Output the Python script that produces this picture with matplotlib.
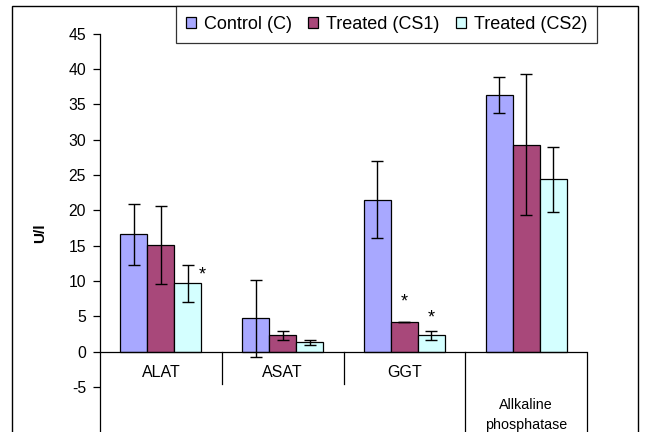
import matplotlib
matplotlib.use("Agg")
import matplotlib.pyplot as plt
from matplotlib.patches import Patch, Rectangle
import numpy as np

plt.rcParams['font.family'] = ['Liberation Sans', 'DejaVu Sans']
plt.rcParams['axes.unicode_minus'] = False

categories = ["ALAT", "ASAT", "GGT", "Allkaline\nphosphatase"]
series_names = ["Control (C)", "Treated (CS1)", "Treated (CS2)"]
control = [16.6, 4.7, 21.5, 36.3]
cs1 = [15.1, 2.3, 4.15, 29.3]
cs2 = [9.65, 1.3, 2.3, 24.4]
control_err = [4.3, 5.5, 5.4, 2.6]
cs1_err = [5.5, 0.6, 0.0, 10.0]
cs2_err = [2.65, 0.4, 0.6, 4.6]
colors = ["#A8A8FF", "#A8487A", "#D4FFFF"]
yticks = [-5, 0, 5, 10, 15, 20, 25, 30, 35, 40, 45]
# significance markers: (category index, series index, y)
stars = [(0, 2, 10.8), (2, 1, 7.1), (2, 2, 4.8)]

fig = plt.figure(figsize=(6.45, 4.32), dpi=100)
# outer chart frame
fig.patches.append(Rectangle((12/645, -0.1), (638-12)/645, 1.1 - 6/432,
                             transform=fig.transFigure, fill=False,
                             edgecolor='black', linewidth=1.0))

ax = fig.add_axes([100/645, 0, (587-100)/645, 1 - 33.5/432])
ymin = -(432 - 351.7) / 7.07
ax.set_ylim(ymin, 45)
ax.set_xlim(0, 4)

values = [control, cs1, cs2]
errs = [control_err, cs1_err, cs2_err]
w = 0.222
x = np.arange(len(categories)) + 0.5
for i in range(3):
    pos = x + (i - 1) * w
    ax.bar(pos, values[i], width=w, color=colors[i], edgecolor='black',
           linewidth=0.9, zorder=2)
    ax.errorbar(pos, values[i], yerr=errs[i], fmt='none', ecolor='black',
                elinewidth=1.0, capsize=4, capthick=1.0, zorder=3)

for ci, si, yv in stars:
    xp = x[ci] + (si - 1) * w
    if ci == 0:
        xp += 0.12
    ax.text(xp, yv, "*", ha='center', va='center', fontsize=13)

for s in ['top', 'right', 'bottom']:
    ax.spines[s].set_visible(False)
ax.spines['left'].set_linewidth(0.9)
ax.axhline(0, color='black', linewidth=0.9, zorder=4)
ax.set_xticks([])
ax.set_yticks(yticks)
ax.tick_params(axis='y', direction='out', length=5, width=0.9, labelsize=11.3, pad=5)

# category separators
sep_short = -4.5
for xb in [1, 2]:
    ax.plot([xb, xb], [0, sep_short], color='black', linewidth=0.9, clip_on=False)
for xb in [3, 4]:
    ax.plot([xb, xb], [0, ymin - 1], color='black', linewidth=0.9, clip_on=False)

for i, c in enumerate(categories):
    if "\n" in c:
        ax.text(x[i], -8.9, c, ha='center', va='center', fontsize=10.3,
                linespacing=1.55)
    else:
        ax.text(x[i], -2.9, c, ha='center', va='center', fontsize=11.5)

ax.set_ylabel("U/l", fontsize=11, fontweight='bold', labelpad=15)

handles = [Patch(facecolor=colors[i], edgecolor='black', linewidth=0.9,
                 label=series_names[i]) for i in range(3)]
leg = fig.legend(handles=handles, loc='upper left', ncol=3,
                 bbox_to_anchor=(176/645, 1 - 6/432), fontsize=13,
                 frameon=True, fancybox=False, handlelength=0.55,
                 handleheight=0.55, handletextpad=0.45, columnspacing=0.9,
                 borderpad=0.55, borderaxespad=0)
leg.get_frame().set_edgecolor('black')
leg.get_frame().set_linewidth(0.9)

fig.savefig("out.png", dpi=100)
